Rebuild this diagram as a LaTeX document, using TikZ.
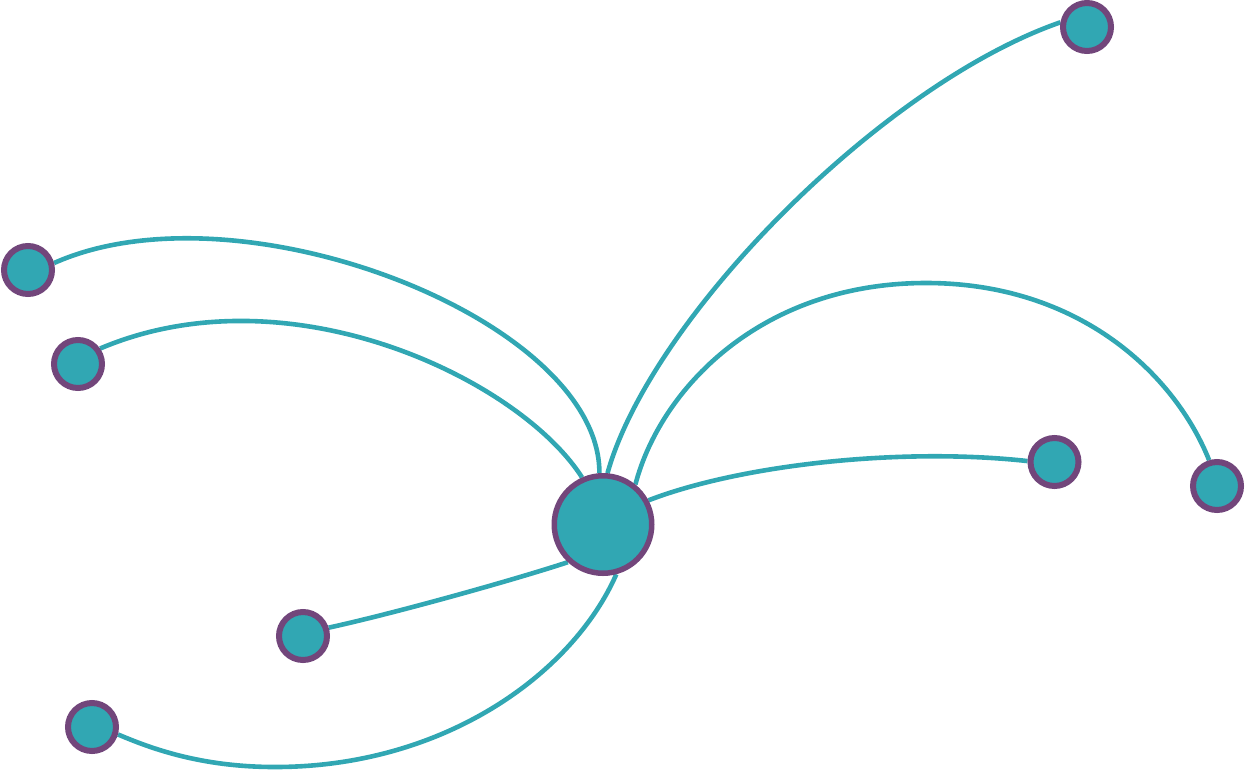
\documentclass[tikz,border=0pt]{standalone}
\definecolor{teal1}{HTML}{31A7B3}
\definecolor{plum1}{HTML}{72467B}
\pgfdeclarelayer{bg}
\pgfsetlayers{bg,main}
\begin{document}
\begin{tikzpicture}[x=1pt,y=-1pt,
  hub/.style={circle,draw=plum1,fill=teal1,line width=5.5pt,minimum size=97.5pt,inner sep=0pt},
  leaf/.style={circle,draw=plum1,fill=teal1,line width=6pt,minimum size=48pt,inner sep=0pt},
  link/.style={draw=teal1,line width=4.6pt}]
\useasboundingbox (0,0) rectangle (1245,769);
\node[hub] (h) at (603,524.5) {};
\node[leaf] (a) at (1087,27) {};
\node[leaf] (b) at (28,270) {};
\node[leaf] (c) at (78,364) {};
\node[leaf] (d) at (1054.5,462) {};
\node[leaf] (e) at (1217,486) {};
\node[leaf] (f) at (303,636) {};
\node[leaf] (g) at (92,727) {};
\coordinate (etop) at (926,283);
\coordinate (gbot) at (275,767);
\begin{pgfonlayer}{bg}
\draw[link] (h.85) .. controls (650,320) and (880,85) .. (a.170);
\draw[link] (h.94) .. controls (600,320) and (240,180) .. (b.15);
\draw[link] (h.114) .. controls (520,380) and (290,268) .. (c.35);
\draw[link] (h.28) .. controls (740,465) and (900,447) .. (d.178);
\draw[link] (h.51) .. controls (660,390) and (760,283) .. (etop)
  .. controls (1080,283) and (1175,375) .. (e.107);
\draw[link] (h.227) .. controls (520,578) and (400,612) .. (f.18);
\draw[link] (h.-75) .. controls (573,673) and (445,767) .. (gbot)
  .. controls (200,767) and (150,748) .. (g.-16);
\end{pgfonlayer}
\end{tikzpicture}
\end{document}
